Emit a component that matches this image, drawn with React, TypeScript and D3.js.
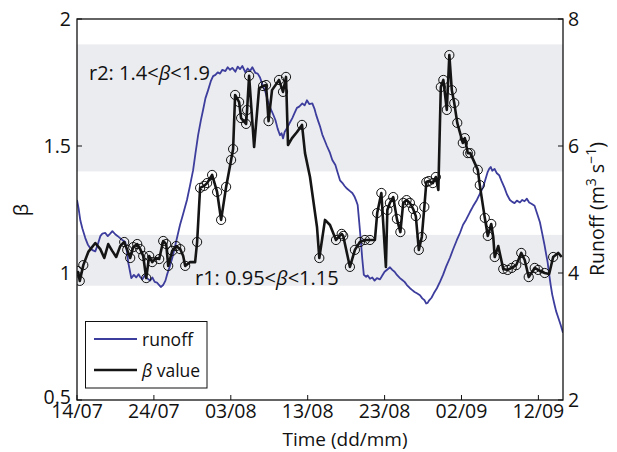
import React from "react";
import * as d3 from "d3";

const runoffDay = [0.0,0.2,0.43,0.7,1.08,1.4,1.73,2.0,2.38,2.7,3.03,3.3,3.68,4.0,4.32,4.6,4.97,5.3,5.6,5.9,6.27,6.5,6.66,6.9,7.06,7.4,7.7,8.0,8.2,8.5,8.8,9.1,9.5,9.8,10.1,10.4,10.6,10.9,11.2,11.5,11.7,12.0,12.4,12.9,13.4,13.8,14.3,14.7,15.1,15.4,15.75,16.1,16.4,16.7,17.05,17.4,17.7,18.0,18.3,18.6,18.9,19.3,19.6,19.9,20.2,20.6,20.9,21.2,21.5,21.9,22.2,22.5,22.8,23.2,23.5,23.8,24.1,24.5,24.8,25.1,25.5,25.8,26.1,26.4,26.6,26.8,27.0,27.3,27.6,28.0,28.3,28.6,28.9,29.3,29.6,29.9,30.2,30.6,30.9,31.1,31.4,31.6,31.9,32.2,32.5,32.9,33.2,33.6,33.9,34.2,34.5,34.8,35.1,35.5,35.8,36.1,36.3,36.5,36.7,36.9,37.1,37.3,37.6,37.8,38.1,38.4,38.7,39.0,39.4,39.7,40.0,40.4,40.7,41.0,41.3,41.6,42.0,42.3,42.6,42.9,43.3,43.6,43.9,44.2,44.6,44.9,45.2,45.4,45.6,45.8,46.1,46.4,46.8,47.2,47.6,48.0,48.5,48.9,49.4,49.8,50.2,50.6,51.1,51.5,52.0,52.4,52.8,53.1,53.4,53.6,53.8,54.0,54.3,54.6,54.9,55.2,55.6,55.9,56.3,56.6,56.9,57.2,57.6,57.9,58.2,58.5,58.8,59.1,59.5,59.8,60.2,60.5,60.8,61.0,61.2,61.4,61.6,61.8,62.1,62.3,62.6,62.9,63.2];
const runoffVal = [5.15,5.02,4.83,4.70,4.55,4.45,4.39,4.36,4.34,4.45,4.58,4.62,4.63,4.58,4.62,4.66,4.61,4.58,4.55,4.52,4.49,4.33,4.17,4.02,3.92,3.97,3.93,3.98,3.94,3.90,3.96,3.92,3.88,3.93,3.86,3.85,3.82,3.78,3.81,3.88,3.97,4.08,4.24,4.50,4.76,4.93,5.15,5.38,5.62,5.88,6.17,6.40,6.57,6.75,6.88,7.02,7.10,7.12,7.16,7.14,7.20,7.18,7.24,7.20,7.23,7.17,7.25,7.21,7.26,7.16,7.22,7.18,7.24,7.15,7.14,7.08,6.97,6.85,6.72,6.61,6.50,6.41,6.27,6.17,6.20,6.12,6.22,6.28,6.35,6.44,6.52,6.60,6.62,6.67,6.64,6.72,6.66,6.67,6.58,6.49,6.38,6.31,6.18,6.09,6.00,5.89,5.78,5.70,5.58,5.46,5.42,5.37,5.33,5.29,5.26,5.20,5.14,5.07,4.80,4.52,4.22,3.97,3.94,3.96,3.91,3.93,3.88,3.92,3.90,3.96,4.02,4.06,4.09,4.05,4.02,3.97,3.92,3.89,3.86,3.81,3.76,3.73,3.70,3.68,3.65,3.60,3.57,3.52,3.53,3.57,3.61,3.68,3.76,3.86,3.97,4.10,4.24,4.37,4.52,4.63,4.76,4.84,4.96,5.05,5.15,5.25,5.35,5.47,5.59,5.64,5.67,5.61,5.64,5.57,5.54,5.45,5.34,5.24,5.15,5.12,5.10,5.14,5.11,5.15,5.13,5.17,5.11,5.09,5.06,4.95,4.80,4.62,4.44,4.30,4.17,3.98,3.81,3.66,3.50,3.40,3.29,3.18,3.06];

const betaDay = [0.10,0.36,0.82,1.47,2.38,3.03,3.55,4.06,4.58,5.10,5.62,6.14,6.53,6.92,7.31,7.83,8.22,8.61,9.00,9.39,9.78,10.30,10.69,11.21,11.60,11.86,12.38,12.90,13.42,13.81,14.07,14.71,15.36,15.62,16.01,16.53,16.92,17.57,18.22,18.74,19.39,20.04,20.30,20.56,21.08,21.34,21.99,22.12,22.38,23.03,23.68,24.20,24.59,24.91,25.36,26.27,26.79,27.18,27.44,27.96,28.61,29.26,29.65,30.30,31.21,31.51,32.25,32.90,33.68,34.42,34.62,35.49,35.71,36.14,36.79,37.44,38.09,38.74,39.04,39.58,40.17,40.36,40.69,41.12,41.60,42.05,42.42,42.86,43.29,43.71,44.06,44.45,44.84,45.17,45.43,45.75,46.27,46.66,46.99,47.31,47.64,48.09,48.42,48.74,49.06,49.45,50.17,50.43,50.82,51.14,52.12,52.38,53.03,53.42,53.87,54.13,54.32,54.78,55.43,56.01,56.53,57.12,57.77,58.22,58.74,59.52,59.97,60.82,61.40,61.92,62.57,63.03];
const betaVal = [1.008,0.969,1.031,1.083,1.118,1.094,1.059,1.114,1.087,1.063,1.106,1.122,1.091,1.059,1.102,1.114,1.094,1.067,0.980,1.067,1.043,1.059,1.055,1.126,1.114,1.028,1.087,1.106,1.094,1.067,1.028,1.043,1.043,1.122,1.335,1.343,1.354,1.386,1.319,1.209,1.339,1.445,1.488,1.701,1.673,1.610,1.587,1.642,1.776,1.496,1.728,1.736,1.740,1.598,1.720,1.760,1.713,1.772,1.504,1.531,1.555,1.583,1.472,1.378,1.181,1.059,1.209,1.189,1.130,1.154,1.146,1.024,1.047,1.091,1.122,1.130,1.130,1.130,1.236,1.315,1.024,1.248,1.276,1.299,1.213,1.161,1.276,1.287,1.276,1.252,1.224,1.091,1.142,1.260,1.358,1.362,1.354,1.378,1.327,1.732,1.760,1.642,1.858,1.720,1.669,1.591,1.512,1.531,1.472,1.472,1.406,1.346,1.217,1.146,1.193,1.142,1.063,1.106,1.016,1.012,1.020,1.031,1.079,1.051,0.984,1.020,1.012,1.000,0.996,1.063,1.079,1.063];
const betaMark = [1,1,1,0,0,0,0,0,0,0,0,1,1,1,1,1,1,1,1,1,1,0,1,1,1,1,1,1,1,0,1,0,0,1,1,1,1,1,1,1,1,1,1,1,1,1,1,1,1,0,0,1,1,1,0,1,1,1,0,0,0,1,0,0,0,1,0,0,1,1,1,1,0,1,1,1,1,0,1,1,0,1,1,1,1,1,1,1,1,1,1,1,1,1,1,1,1,1,0,1,1,1,1,1,1,1,1,1,1,1,1,1,1,1,1,0,1,0,1,1,1,1,1,1,1,1,1,1,0,1,0,0];

const xTickDays = [0, 10, 20, 30, 40, 50, 60];
const xTickLabels = ["14/07", "24/07", "03/08", "13/08", "23/08", "02/09", "12/09"];
const leftTicks = [0.5, 1, 1.5, 2];
const leftTickLabels = ["0.5", "1", "1.5", "2"];
const rightTicks = [2, 4, 6, 8];
const rightTickLabels = ["2", "4", "6", "8"];
const bandLow = [1.4, 0.95];
const bandHigh = [1.9, 1.15];

const FONT = "'Open Sans', 'DejaVu Sans', sans-serif";
const BLUE = "#3d3d9d";

export default function App() {
  const L = 77, R = 563, T = 19, B = 400;
  const x = d3.scaleLinear().domain([0, 63.2]).range([L, R]);
  const yL = d3.scaleLinear().domain([0.5, 2]).range([B, T]);
  const yR = d3.scaleLinear().domain([2, 8]).range([B, T]);

  const runoffLine = d3.line<number>()
    .x((_, i) => x(runoffDay[i]))
    .y((v) => yR(v))(runoffVal) || "";
  const betaLine = d3.line<number>()
    .x((_, i) => x(betaDay[i]))
    .y((v) => yL(v))(betaVal) || "";

  return (
    <svg width={617} height={452} style={{ display: "block", position: "absolute", left: 0, top: 0 }} fontFamily={FONT}>
      <defs>
        <clipPath id="plotclip">
          <rect x={L} y={T} width={R - L} height={B - T} />
        </clipPath>
      </defs>
      <rect x={0} y={0} width={617} height={452} fill="#fff" />
      {bandLow.map((lo, i) => (
        <rect key={i} x={L} y={yL(bandHigh[i])} width={R - L} height={yL(lo) - yL(bandHigh[i])} fill="#ebecef" />
      ))}
      <g clipPath="url(#plotclip)">
        <path d={runoffLine} fill="none" stroke={BLUE} strokeWidth={1.8} strokeLinejoin="round" />
        <path d={betaLine} fill="none" stroke="#151515" strokeWidth={2.6} strokeLinejoin="round" />
        {betaVal.map((v, i) =>
          betaMark[i] ? (
            <circle key={i} cx={x(betaDay[i])} cy={yL(v)} r={4.6} fill="none" stroke="#111" strokeWidth={1} />
          ) : null
        )}
      </g>
      <rect x={L} y={T} width={R - L} height={B - T} fill="none" stroke="#111" strokeWidth={1.3} />
      {xTickDays.map((d, i) => (
        <g key={i}>
          <line x1={x(d)} x2={x(d)} y1={B} y2={B - 5} stroke="#111" strokeWidth={1} />
          <text x={x(d)} y={418} textAnchor="middle" fontSize={19.5} fill="#111">{xTickLabels[i]}</text>
        </g>
      ))}
      {leftTicks.map((v, i) => (
        <g key={i}>
          <line x1={L} x2={L + 5} y1={yL(v)} y2={yL(v)} stroke="#111" strokeWidth={1} />
          <text x={71} y={yL(v) - (i === 0 ? 3 : 0)} dy="0.36em" textAnchor="end" fontSize={19.5} fill="#111">{leftTickLabels[i]}</text>
        </g>
      ))}
      {rightTicks.map((v, i) => (
        <g key={i}>
          <line x1={R} x2={R - 5} y1={yR(v)} y2={yR(v)} stroke="#111" strokeWidth={1} />
          <text x={568} y={yR(v)} dy="0.36em" textAnchor="start" fontSize={19.5} fill="#111">{rightTickLabels[i]}</text>
        </g>
      ))}
      <text x={345} y={446} textAnchor="middle" fontSize={19} fill="#111">Time (dd/mm)</text>
      <text transform="translate(28,210) rotate(-90)" textAnchor="middle" fontSize={20} fill="#111">β</text>
      <text transform="translate(604,209) rotate(-90)" textAnchor="middle" fontSize={19.5} fill="#111">
        Runoff (m<tspan dy={-8} fontSize={14}>3</tspan><tspan dy={8}> s</tspan><tspan dy={-8} fontSize={14}>−1</tspan><tspan dy={8}>)</tspan>
      </text>
      <text x={89} y={80} fontSize={20} fill="#111">
        r2: 1.4&lt;<tspan fontStyle="italic">β</tspan>&lt;1.9
      </text>
      <text x={195} y={285} fontSize={20} fill="#111">
        r1: 0.95&lt;<tspan fontStyle="italic">β</tspan>&lt;1.15
      </text>
      <rect x={85.5} y={321.5} width={121.5} height={66.5} fill="#fff" stroke="#111" strokeWidth={1} />
      <line x1={94} x2={137} y1={339} y2={339} stroke={BLUE} strokeWidth={1.8} />
      <text x={142} y={346} fontSize={17.5} fill="#111">runoff</text>
      <line x1={94} x2={137} y1={370} y2={370} stroke="#151515" strokeWidth={2.6} />
      <text x={142} y={377} fontSize={17.5} fill="#111">
        <tspan fontStyle="italic">β</tspan> value
      </text>
    </svg>
  );
}
